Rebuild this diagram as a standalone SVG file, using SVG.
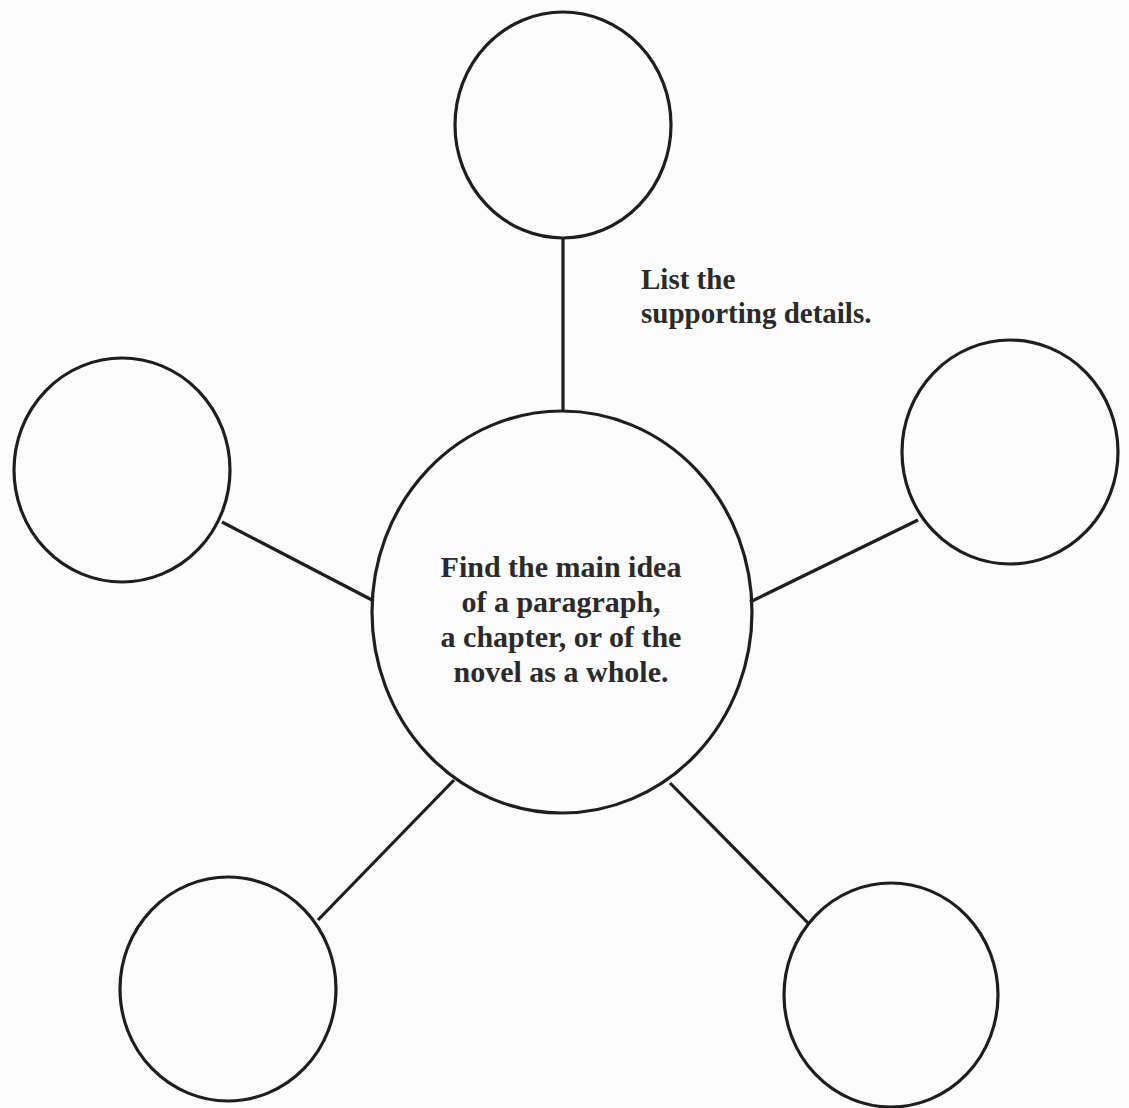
<svg xmlns="http://www.w3.org/2000/svg" width="1129" height="1108" viewBox="0 0 1129 1108">
<style>
.n{fill:none;stroke:#1e1e1e;stroke-width:3.2}
.c line{stroke:#1e1e1e;stroke-width:3.2}
.t{font-family:"Liberation Serif","Times New Roman",serif;font-weight:bold;font-size:29px;fill:#2a2a2a}
.m{font-size:30px}
</style>
<rect width="1129" height="1108" fill="#fcfcfc"/>
<g class="c" id="connectors">
<line x1="563" y1="238" x2="563" y2="411"/>
<line x1="222" y1="522" x2="372" y2="600"/>
<line x1="918" y1="520" x2="750" y2="602"/>
<line x1="318" y1="920" x2="454" y2="780"/>
<line x1="670" y1="783" x2="808" y2="923"/>
</g>
<g id="center">
<ellipse class="n" cx="562" cy="612" rx="190" ry="201"/>
<text class="t m" text-anchor="middle" x="561" y="577">Find the main idea</text>
<text class="t m" text-anchor="middle" x="561" y="612">of a paragraph,</text>
<text class="t m" text-anchor="middle" x="561" y="647">a chapter, or of the</text>
<text class="t m" text-anchor="middle" x="561" y="682">novel as a whole.</text>
</g>
<g id="top"><ellipse class="n" cx="563" cy="125" rx="108" ry="113"/></g>
<g id="left"><ellipse class="n" cx="122" cy="470" rx="108" ry="112"/></g>
<g id="right"><ellipse class="n" cx="1010" cy="452" rx="108" ry="112"/></g>
<g id="bottom-left"><ellipse class="n" cx="228" cy="989" rx="108" ry="112"/></g>
<g id="bottom-right"><ellipse class="n" cx="891" cy="995" rx="107" ry="112"/></g>
<g id="label">
<text class="t" x="641" y="289">List the</text>
<text class="t" x="641" y="323">supporting details.</text>
</g>
</svg>
